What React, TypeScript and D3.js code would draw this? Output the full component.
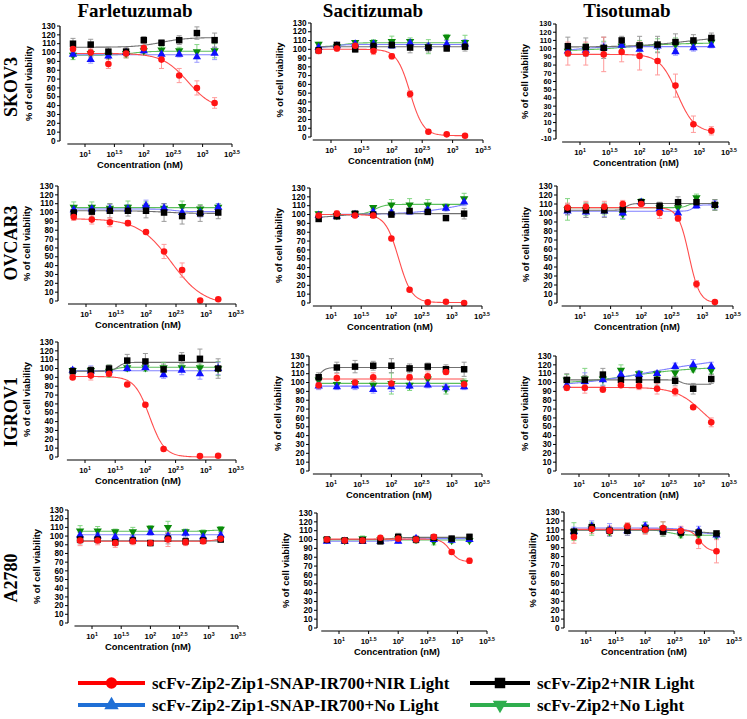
import React from "react";
import * as d3 from "d3";

// dilution series (nM), plotted on a log axis
const concentrations = [6.25, 12.5, 25, 50, 100, 200, 400, 800, 1600];
const drugs = ["Farletuzumab", "Sacitizumab", "Tisotumab"];
const cellLines = ["SKOV3", "OVCAR3", "IGROV1", "A2780"];
const seriesLabels = [
  "scFv-Zip2-Zip1-SNAP-IR700+NIR Light",
  "scFv-Zip2+NIR Light",
  "scFv-Zip2-Zip1-SNAP-IR700+No Light",
  "scFv-Zip2+No Light",
];
const xTickExponents = ["1", "1.5", "2", "2.5", "3", "3.5"];
const yTicks = [0, 10, 20, 30, 40, 50, 60, 70, 80, 90, 100, 110, 120, 130];
const yTicksNeg = [-10, 0, 10, 20, 30, 40, 50, 60, 70, 80, 90, 100, 110, 120, 130];

// every block: [red NIR conjugate, black Zip2 NIR, blue conjugate no light, green Zip2 no light]
// fits: [start, end, logEC50, hill]
const skov3FarMean = [
  [104, 100, 87, 99, 105, 92, 74, 60, 43],
  [110, 109, 101, 101, 114, 111, 114, 122, 114],
  [98, 92, 96, 100, 102, 98, 98, 95, 99],
  [97, 99, 97, 99, 102, 103, 102, 101, 102],
];
const skov3FarSd = [
  [4, 5, 5, 5, 7, 10, 8, 8, 6],
  [6, 6, 5, 5, 4, 3, 5, 7, 8],
  [3, 4, 3, 3, 3, 3, 3, 6, 7],
  [5, 4, 4, 5, 4, 4, 4, 8, 8],
];
const skov3FarFit = [[99, 35, 2.75, 2], [106, 117, 2.3, 2], [97.5, 97.5, 2, 1], [97, 101.5, 1.8, 3]];

const skov3SacMean = [
  [98, 101, 104, 98, 92, 49, 6, 3, 1.5],
  [99, 105, 100, 104, 105, 102, 102, 101, 103],
  [102, 104, 106, 106, 104, 107, 103, 106, 106],
  [106, 103, 108, 108, 109, 109, 103, 114, 108],
];
const skov3SacSd = [
  [3, 3, 2, 4, 3, 4, 2, 1, 1],
  [2, 2, 3, 3, 4, 6, 5, 3, 5],
  [3, 3, 3, 3, 3, 4, 4, 4, 5],
  [2, 3, 2, 3, 6, 4, 8, 3, 8],
];
const skov3SacFit = [[100, 1.5, 2.3, 4], [103, 103, 2, 1], [101.5, 105.5, 1.0, 4], [103, 107.5, 1.2, 4]];

const skov3TisoMean = [
  [94, 94, 93, 96, 91, 85, 55, 8, 0],
  [103, 102, 101, 110, 104, 105, 108, 110, 113],
  [97, 98, 101, 104, 99, 103, 96, 101, 104],
  [97, 99, 101, 103, 103, 104, 105, 106, 108],
];
const skov3TisoSd = [
  [14, 14, 21, 12, 17, 17, 14, 10, 5],
  [11, 11, 13, 5, 11, 10, 10, 7, 6],
  [5, 7, 6, 5, 5, 4, 4, 4, 3],
  [6, 7, 8, 7, 7, 8, 8, 6, 5],
];
const skov3TisoFit = [[93, -2, 2.63, 3], [102, 116, 2.8, 1], [97, 102.5, 1.0, 2], [97, 107, 1.8, 1]];

const ovcar3FarMean = [
  [95, 92, 89, 88, 78, 56, 35, 0.5, 2],
  [100, 101, 102, 102, 102, 100, 96, 99, 100],
  [103, 104, 104, 104, 108, 105, 100, 100, 106],
  [106, 106, 105, 106, 106, 105, 107, 104, 106],
];
const ovcar3FarSd = [
  [4, 5, 5, 3, 2, 8, 8, 1, 1],
  [7, 6, 8, 6, 8, 10, 9, 9, 7],
  [4, 4, 5, 5, 6, 5, 5, 5, 4],
  [6, 6, 5, 7, 6, 5, 6, 5, 4],
];
const ovcar3FarFit = [[93, -5, 2.42, 1.6], [102, 99, 2.3, 2], [104, 101, 2.45, 4], [105.5, 105.5, 2, 1]];

const ovcar3SacMean = [
  [99, 101, 99, 99, 73, 15, 0.8, 1.5, 0],
  [95, 98, 101, 100, 100, 104, 103, 96, 101],
  [99, 98, 100, 103, 102, 103, 105, 107, 114],
  [101, 99, 101, 108, 111, 111, 111, 109, 118],
];
const ovcar3SacSd = [
  [2, 3, 2, 3, 2, 1, 1, 1, 0.5],
  [2, 2, 2, 3, 3, 3, 3, 1, 6],
  [2, 2, 2, 3, 3, 3, 3, 3, 4],
  [2, 2, 2, 2, 6, 7, 6, 3, 6],
];
const ovcar3SacFit = [[100, 0.5, 2.12, 4], [96, 101, 1.1, 2], [100, 125, 3.3, 1], [100, 111.5, 1.72, 5]];

const ovcar3TisoMean = [
  [106, 107, 107, 110, 110, 100, 94, 21, 1],
  [104, 103, 103, 104, 112, 108, 112, 112, 109],
  [102, 101, 102, 100, 112, 105, 100, 108, 109],
  [104, 104, 104, 99, 113, 106, 106, 117, 109],
];
const ovcar3TisoSd = [
  [5, 6, 6, 4, 4, 6, 3, 4, 1],
  [6, 8, 8, 7, 3, 4, 6, 4, 6],
  [4, 6, 6, 6, 3, 5, 5, 3, 5],
  [12, 7, 6, 6, 3, 4, 5, 4, 6],
];
const ovcar3TisoFit = [[106, 0, 2.78, 5], [103, 110.5, 1.75, 10], [102, 109, 2.85, 10], [106, 110.5, 2.75, 10]];

const igrov1FarMean = [
  [90, 92, 94, 82, 59, 9, null, 1, 1.5],
  [97, 98, 100, 109, 108, 99, 112, 111, 100],
  [98, 97, 98, 100, 101, 93, 98, 94, 100],
  [98, 98, 97, 101, 101, 101, 101, 101, 100],
];
const igrov1FarSd = [
  [1, 5, 2, 1, 2, 2, 0, 1, 1],
  [4, 4, 4, 7, 9, 6, 6, 11, 11],
  [3, 6, 4, 3, 3, 4, 5, 6, 7],
  [3, 3, 7, 4, 4, 6, 4, 4, 8],
];
const igrov1FarFit = [[91, 0, 2.07, 3.5], [97, 107, 1.55, 8], [97.5, 97.5, 2, 1], [97.5, 101.5, 1.5, 8]];

const igrov1SacMean = [
  [97, 105, 100, 106, 99, 106, 107, 112, 98],
  [106, 117, 118, 119, 119, 116, 118, 115, 115],
  [96, 95, 96, 92, 95, 96, 97, 94, 95],
  [103, 98, 99, 97, 99, 97, 104, 93, 100],
];
const igrov1SacSd = [
  [4, 5, 3, 5, 5, 3, 5, 3, 4],
  [5, 6, 7, 5, 8, 5, 4, 5, 8],
  [4, 3, 4, 4, 5, 3, 3, 4, 3],
  [6, 4, 4, 4, 12, 6, 5, 6, 4],
];
const igrov1SacFit = [[104, 104, 2, 1], [100, 117, 0.8, 8], [96, 96, 2, 1], [99, 99, 2, 1]];

const igrov1TisoMean = [
  [94, 94, 92, 97, 96, 93, 90, 72, 55],
  [103, 103, 109, 103, 103, 103, 102, 93, 104],
  [97, 101, 103, 109, 109, 110, 118, 120, 118],
  [103, 104, 104, 114, 110, 110, 111, 115, 114],
];
const igrov1TisoSd = [
  [3, 6, 3, 2, 4, 6, 5, 2, 5],
  [7, 5, 7, 5, 5, 6, 5, 6, 5],
  [5, 10, 7, 4, 4, 2, 4, 6, 5],
  [6, 12, 7, 6, 3, 3, 4, 3, 4],
];
const igrov1TisoFit = [[94.5, 40, 3.05, 2], [103, 98, 2.7, 10], [94, 130, 2.2, 0.6], [98, 118, 1.9, 0.8]];

const a2780FarMean = [
  [95, 95, 92, 94, 92, 96, 93, 94, 97],
  [96, 96, 93, 95, 92, 97, 94, 95, 96],
  [101, 100, 99, 97, 104, 100, 103, 99, 101],
  [106, 106, 105, 105, 109, 110, 105, 104, 108],
];
const a2780FarSd = [
  [6, 5, 5, 4, 3, 8, 4, 3, 2],
  [5, 4, 4, 4, 3, 6, 4, 3, 2],
  [3, 3, 3, 4, 3, 4, 4, 3, 3],
  [6, 5, 3, 5, 3, 7, 3, 3, 3],
];
const a2780FarFit = [[94, 98, 3.15, 5], [94.5, 94.5, 2, 1], [101.5, 101.5, 2, 1], [105.5, 107, 3.0, 5]];

const a2780SacMean = [
  [100, 99, 99, 102, 101, 100, 103, 86, 76],
  [100, 99, 99, 98, 103, 100, 102, 101, 103],
  [98, 98, 98, 98, 98, 101, 100, 99, 100],
  [100, 99, 101, 100, 101, 100, 98, 99, 99],
];
const a2780SacSd = [
  [2, 2, 2, 2, 2, 2, 2, 2, 3],
  [3, 3, 3, 3, 4, 4, 3, 3, 3],
  [2, 2, 2, 2, 2, 3, 3, 2, 2],
  [2, 2, 3, 3, 3, 3, 4, 3, 2],
];
const a2780SacFit = [[100.5, 75, 2.88, 6], [100, 102.5, 1.9, 4], [98, 101, 2.0, 4], [99.5, 99.5, 2, 1]];

const a2780TisoMean = [
  [102, 111, 109, 114, 110, 112, 109, 97, 86],
  [108, 113, 109, 109, 111, 108, 107, 107, 106],
  [108, 114, 110, 109, 114, 110, 109, 109, 104],
  [108, 111, 108, 112, 113, 111, 105, 105, 104],
];
const a2780TisoSd = [
  [7, 5, 5, 4, 5, 7, 5, 8, 13],
  [3, 4, 5, 5, 5, 5, 4, 4, 2],
  [5, 6, 7, 5, 4, 4, 4, 5, 4],
  [10, 7, 5, 5, 6, 8, 4, 4, 3],
];
const a2780TisoFit = [[110.5, 86, 2.92, 6], [109.5, 106, 2.9, 3], [112, 105, 2.8, 3], [110, 104, 2.4, 4]];

const panels = [
  [
    { mean: skov3FarMean, sd: skov3FarSd, fit: skov3FarFit },
    { mean: skov3SacMean, sd: skov3SacSd, fit: skov3SacFit },
    { mean: skov3TisoMean, sd: skov3TisoSd, fit: skov3TisoFit },
  ],
  [
    { mean: ovcar3FarMean, sd: ovcar3FarSd, fit: ovcar3FarFit },
    { mean: ovcar3SacMean, sd: ovcar3SacSd, fit: ovcar3SacFit },
    { mean: ovcar3TisoMean, sd: ovcar3TisoSd, fit: ovcar3TisoFit },
  ],
  [
    { mean: igrov1FarMean, sd: igrov1FarSd, fit: igrov1FarFit },
    { mean: igrov1SacMean, sd: igrov1SacSd, fit: igrov1SacFit },
    { mean: igrov1TisoMean, sd: igrov1TisoSd, fit: igrov1TisoFit },
  ],
  [
    { mean: a2780FarMean, sd: a2780FarSd, fit: a2780FarFit },
    { mean: a2780SacMean, sd: a2780SacSd, fit: a2780SacFit },
    { mean: a2780TisoMean, sd: a2780TisoSd, fit: a2780TisoFit },
  ],
];

// layout of each little plot (pixels)
const AXIS_X = [[60, 311, 556], [58, 310, 557], [58, 309, 556], [68, 317, 564]];
const PLOT_TOP = [[26, 23, 24], [186, 188, 186], [342, 356, 356], [510, 513, 512]];
const PLOT_BOTTOM = [[141, 137, 139], [301, 303, 303], [457, 471, 471], [623, 628, 628]];
const DEC1_X = [[85, 331, 580], [86, 331, 580], [85, 331, 579], [92, 339, 586]];
const DEC35_X = [[232, 483, 729], [236, 482, 733], [236, 482, 729], [238, 487, 734]];
const TITLE_X = [135, 373, 627];
const ROW_LABEL_Y = [87, 243, 412, 578];

const colors = ["#ff1414", "#000000", "#1010ff", "#0a8a0a"];
const curveColors = ["#ff4d4d", "#707070", "#8080ff", "#5cbf5c"];
const errColors = ["#ff8a8a", "#8a8a8a", "#8a8aff", "#6fcf6f"];
const legendColors = ["#ff0000", "#000000", "#1f6fd6", "#2fae4e"];

const sans = "'Liberation Sans', Arial, sans-serif";
const serif = "'Liberation Serif', 'Times New Roman', serif";

const symbolPath = (i: number, size: number) => {
  const type = [d3.symbolCircle, d3.symbolSquare, d3.symbolTriangle, d3.symbolTriangle][i];
  return d3.symbol().type(type).size(size)()!;
};

const fitValue = (p: number[], lx: number) => p[0] + (p[1] - p[0]) / (1 + Math.pow(10, p[3] * (p[2] - lx)));

const drawOrder = [3, 2, 1, 0];
const logLo = Math.log10(concentrations[0]);
const logHi = Math.log10(concentrations[concentrations.length - 1]);
const curveX = d3.range(0, 161).map((i) => logLo + ((logHi - logLo) * i) / 160);

const Panel: React.FC<{ row: number; col: number }> = ({ row, col }) => {
  const data = panels[row][col];
  const ax = AXIS_X[row][col];
  const top = PLOT_TOP[row][col];
  const bottom = PLOT_BOTTOM[row][col];
  const ticks = row === 0 && col === 2 ? yTicksNeg : yTicks;
  const tickFont = ticks.length > 14 ? 7.3 : 8.2;
  const y = d3.scaleLinear().domain([ticks[0], ticks[ticks.length - 1]]).range([bottom, top]);
  const x = d3.scaleLog().domain([10, 10 ** 3.5]).range([DEC1_X[row][col], DEC35_X[row][col]]);
  const xAxisY = bottom + 3;
  const xStart = x(10 ** 0.7);
  const xEnd = x(10 ** 3.5);

  return (
    <g>
      {/* fitted curves */}
      {drawOrder.map((s) => {
        const pts = curveX
          .map((lx) => [lx, fitValue(data.fit[s], lx)] as [number, number])
          .filter((p) => p[1] >= ticks[0]);
        const path = d3
          .line<[number, number]>()
          .x((p) => x(10 ** p[0]))
          .y((p) => y(p[1]))(pts);
        return <path key={"c" + s} d={path!} fill="none" stroke={curveColors[s]} strokeWidth={1.1} />;
      })}
      {/* error bars */}
      {drawOrder.map((s) => (
        <g key={"e" + s} stroke={errColors[s]} strokeWidth={1} opacity={0.85}>
          {concentrations.map((c, i) => {
            const m = data.mean[s][i];
            if (m === null) return null;
            const e = data.sd[s][i];
            const cx = x(c);
            const y1 = y(Math.max(m - e, ticks[0]));
            const y2 = y(m + e);
            return (
              <g key={i}>
                <line x1={cx} x2={cx} y1={y1} y2={y2} />
                <line x1={cx - 2.5} x2={cx + 2.5} y1={y2} y2={y2} />
                {m - e >= ticks[0] && <line x1={cx - 2.5} x2={cx + 2.5} y1={y1} y2={y1} />}
              </g>
            );
          })}
        </g>
      ))}
      {/* markers */}
      {drawOrder.map((s) => (
        <g key={"m" + s} fill={colors[s]}>
          {concentrations.map((c, i) => {
            const m = data.mean[s][i];
            if (m === null) return null;
            const size = s === 0 ? 34 : s === 1 ? 42 : 30;
            return (
              <path
                key={i}
                d={symbolPath(s, size)}
                transform={`translate(${x(c)},${y(m)})${s === 3 ? " rotate(180)" : ""}`}
              />
            );
          })}
        </g>
      ))}
      {/* y axis */}
      <line x1={ax} x2={ax} y1={y(ticks[ticks.length - 1])} y2={y(ticks[0])} stroke="#000" strokeWidth={1.2} />
      {ticks.map((t) => (
        <g key={"yt" + t}>
          <line x1={ax - 3} x2={ax} y1={y(t)} y2={y(t)} stroke="#000" strokeWidth={1} />
          <text
            x={ax - 4.5}
            y={y(t)}
            dy="0.33em"
            textAnchor="end"
            fontFamily={sans}
            fontWeight="bold"
            fontSize={tickFont}
          >
            {t}
          </text>
        </g>
      ))}
      <text
        transform={`translate(${ax - 28},${(top + bottom) / 2}) rotate(-90)`}
        textAnchor="middle"
        fontFamily={sans}
        fontWeight="bold"
        fontSize={9.5}
        textLength={75}
        lengthAdjust="spacingAndGlyphs"
      >
        % of cell viability
      </text>
      {/* x axis */}
      <line x1={xStart} x2={xEnd} y1={xAxisY} y2={xAxisY} stroke="#000" strokeWidth={1.2} />
      {xTickExponents.map((e) => {
        const tx = x(10 ** parseFloat(e));
        return (
          <g key={"xt" + e}>
            <line x1={tx} x2={tx} y1={xAxisY} y2={xAxisY + 3} stroke="#000" strokeWidth={1} />
            <text x={tx} y={bottom + 16} textAnchor="middle" fontFamily={sans} fontWeight="bold" fontSize={7.8}>
              10
              <tspan fontSize={5.2} dy={-3.5}>
                {e}
              </tspan>
            </text>
          </g>
        );
      })}
      <text
        x={ax + 80}
        y={bottom + 26.5}
        textAnchor="middle"
        fontFamily={sans}
        fontWeight="bold"
        fontSize={9.5}
        textLength={86}
        lengthAdjust="spacingAndGlyphs"
      >
        Concentration (nM)
      </text>
    </g>
  );
};

const LEGEND_ROWS_Y = [683, 705];
const LEGEND_LINE_X = [
  [78, 145],
  [470, 530],
];

export default function App() {
  return (
    <svg
      width={747}
      height={719}
      style={{ position: "absolute", left: 0, top: 0, background: "#fff" }}
    >
      <rect width={747} height={719} fill="#fff" />
      {drugs.map((d, i) => (
        <text
          key={d}
          x={TITLE_X[i]}
          y={17}
          textAnchor="middle"
          fontFamily={serif}
          fontWeight="bold"
          fontSize={19}
        >
          {d}
        </text>
      ))}
      {cellLines.map((c, i) => (
        <text
          key={c}
          transform={`translate(17,${ROW_LABEL_Y[i]}) rotate(-90)`}
          textAnchor="middle"
          fontFamily={serif}
          fontWeight="bold"
          fontSize={18}
        >
          {c}
        </text>
      ))}
      {cellLines.map((_, r) => drugs.map((__, c) => <Panel key={r + "-" + c} row={r} col={c} />))}
      {/* legend: red, black on the first row, blue, green on the second */}
      {seriesLabels.map((label, s) => {
        const ly = LEGEND_ROWS_Y[s < 2 ? 0 : 1];
        const [x1, x2] = LEGEND_LINE_X[s % 2];
        const mid = (x1 + x2) / 2;
        return (
          <g key={label}>
            <line x1={x1} x2={x2} y1={ly} y2={ly} stroke={legendColors[s]} strokeWidth={4} />
            <path
              d={symbolPath(s, s === 0 ? 100 : s === 1 ? 110 : 90)}
              fill={legendColors[s]}
              transform={`translate(${mid},${ly})${s === 3 ? " rotate(180)" : ""}`}
            />
            <text x={x2 + 7} y={ly} dy="0.35em" fontFamily={serif} fontWeight="bold" fontSize={17}>
              {label}
            </text>
          </g>
        );
      })}
    </svg>
  );
}
